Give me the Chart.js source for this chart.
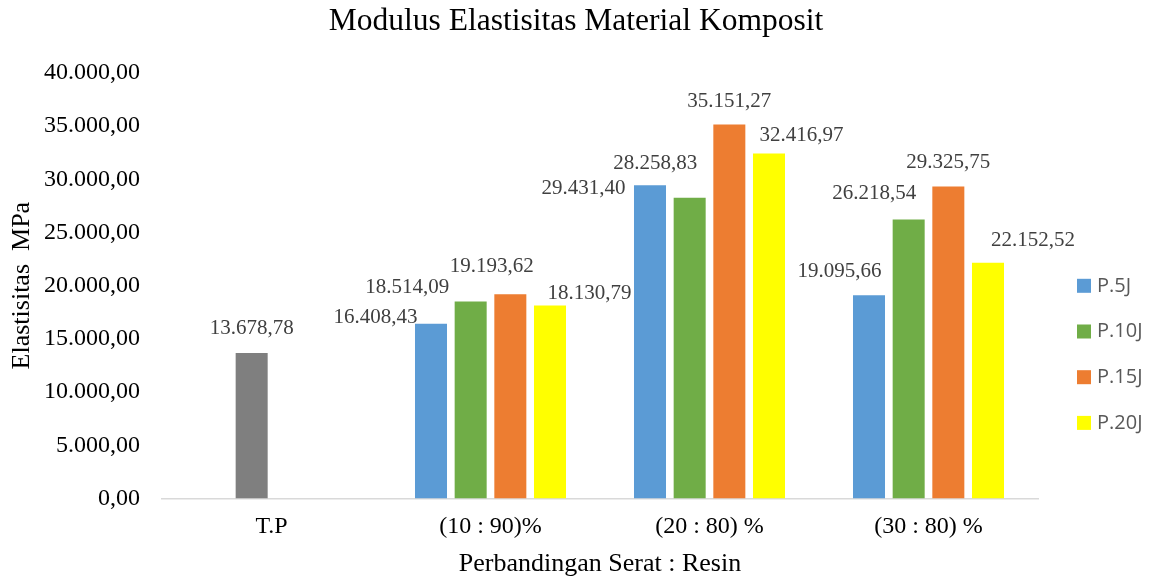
<!DOCTYPE html>
<html>
<head>
<meta charset="utf-8">
<script src="https://cdn.jsdelivr.net/npm/chart.js@4.4.1/dist/chart.umd.min.js"></script>
<style>
  html, body { margin: 0; padding: 0; background: #fff; }
</style>
</head>
<body>
<canvas id="grafik" width="1152" height="581"></canvas>
<script>
var kategori = ["T.P", "(10 : 90)%", "(20 : 80) %", "(30 : 80) %"];
var seri = ["P.5J", "P.10J", "P.15J", "P.20J"];
var p5  = [null, 16408.43, 29431.40, 19095.66];
var p10 = [13678.78, 18514.09, 28258.83, 26218.54]; // nilai T.P ada di slot P.10J (abu-abu)
var p15 = [null, 19193.62, 35151.27, 29325.75];
var p20 = [null, 18130.79, 32416.97, 22152.52];
var yMin = 0, yMax = 40000, yStep = 5000;

var serif = "'Liberation Serif', 'Times New Roman', serif";
var warna = ['#5b9bd5', '#70ad47', '#ed7d31', '#ffff00'];
var abu = '#7f7f7f';

// geser label data (dx, dy) dari tengah atas tiap batang
var geserLabel = [
  [null, [-55.5, -6], [-66.5, 3], [-29.5, -24]],
  [[0, -24], [-63.5, -14], [-34.5, -34], [-34.5, -26]],
  [null, [-18.5, -28], [0, -23], [0, -24]],
  [null, [39.5, -12], [32.5, -18], [45, -22]]
];

function formatAngka(v) {
  var s = Number(v).toFixed(2).split('.');
  return s[0].replace(/\B(?=(\d{3})+(?!\d))/g, '.') + ',' + s[1];
}

var labelData = {
  id: 'labelData',
  afterDatasetsDraw: function(chart) {
    var ctx = chart.ctx;
    ctx.save();
    ctx.font = '21px ' + serif;
    ctx.fillStyle = '#404040';
    ctx.textAlign = 'center';
    ctx.textBaseline = 'middle';
    chart.data.datasets.forEach(function(ds, d) {
      var meta = chart.getDatasetMeta(d);
      meta.data.forEach(function(bar, i) {
        var v = ds.data[i];
        if (v == null) return;
        var g = geserLabel[d][i] || [0, -20];
        ctx.fillText(formatAngka(v), bar.x + g[0], bar.y + g[1]);
      });
    });
    ctx.restore();
  }
};

var legendaKanan = {
  id: 'legendaKanan',
  afterDraw: function(chart) {
    var ctx = chart.ctx;
    var ca = chart.chartArea;
    var x0 = ca.right + 39, y0 = ca.top + 213;
    ctx.save();
    ctx.font = "20px 'Open Sans', sans-serif";
    ctx.textAlign = 'left';
    ctx.textBaseline = 'middle';
    seri.forEach(function(nama, i) {
      var yc = y0 + i * 45.7;
      ctx.fillStyle = warna[i];
      ctx.fillRect(x0, yc - 7, 14, 14);
      ctx.fillStyle = '#595959';
      ctx.fillText(nama, x0 + 20, yc);
    });
    ctx.restore();
  }
};

var ctx = document.getElementById('grafik').getContext('2d');
var grafik = new Chart(ctx, {
  type: 'bar',
  data: {
    labels: kategori,
    datasets: [
      { label: seri[0], data: p5, backgroundColor: warna[0] },
      { label: seri[1], data: p10, backgroundColor: [abu, warna[1], warna[1], warna[1]] },
      { label: seri[2], data: p15, backgroundColor: warna[2] },
      { label: seri[3], data: p20, backgroundColor: warna[3] }
    ]
  },
  options: {
    responsive: false,
    animation: false,
    devicePixelRatio: 1,
    categoryPercentage: 0.7245,
    barPercentage: 0.807,
    plugins: {
      legend: { display: false },
      tooltip: { enabled: false },
      title: {
        display: true,
        text: 'Modulus Elastisitas Material Komposit',
        color: '#000',
        font: { family: serif, size: 31.5, weight: 'normal' },
        padding: { top: 3, bottom: 32 }
      }
    },
    scales: {
      x: {
        grid: { display: false, drawTicks: false },
        border: { color: '#d9d9d9', width: 1.5 },
        ticks: { color: '#000', font: { family: serif, size: 24 }, padding: 14 },
        title: {
          display: true,
          text: 'Perbandingan Serat : Resin',
          color: '#000',
          font: { family: serif, size: 26 },
          padding: { top: 7, bottom: 1 }
        },
        afterFit: function(s) { s.height = 82.5; }
      },
      y: {
        min: yMin,
        max: yMax,
        grid: { display: false, drawTicks: false },
        border: { display: false },
        ticks: {
          stepSize: yStep,
          color: '#000',
          font: { family: serif, size: 24 },
          padding: 22,
          callback: function(v) { return formatAngka(v); }
        },
        title: {
          display: true,
          text: 'Elastisitas  MPa',
          color: '#000',
          font: { family: serif, size: 26 },
          padding: { top: 7, bottom: 5 }
        },
        afterFit: function(s) { s.width = 162; }
      },
      // sumbu kosong di kanan, hanya untuk memberi ruang legenda
      ruangKanan: {
        type: 'linear',
        position: 'right',
        grid: { display: false, drawTicks: false },
        border: { display: false },
        ticks: { display: false },
        afterFit: function(s) { s.width = 114; }
      }
    }
  },
  plugins: [labelData, legendaKanan]
});
</script>
</body>
</html>
